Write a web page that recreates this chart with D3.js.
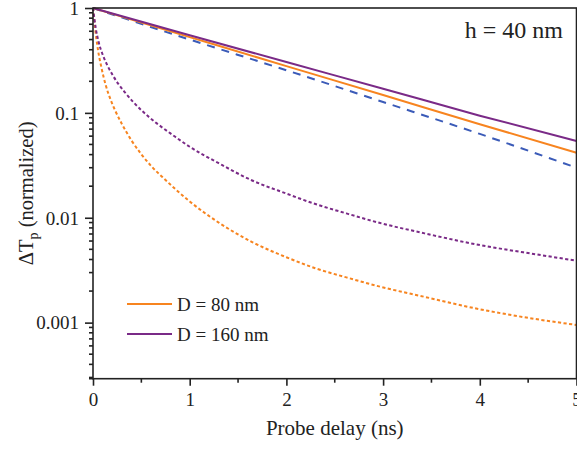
<!DOCTYPE html>
<html><head><meta charset="utf-8">
<script src="https://cdn.jsdelivr.net/npm/d3@7"></script>
<style>
html,body{margin:0;padding:0;background:#fff;}
svg{display:block;}
text{font-family:"Liberation Serif","Times New Roman",serif;fill:#222;}
</style></head>
<body><svg id="c" width="577" height="452"></svg>
<script>
// ---- data ----
const tSolid = [0, 1, 2, 3, 4, 5];
const solid80 = [1, 0.528, 0.279, 0.148, 0.078, 0.0416];
const solid160 = [1, 0.55, 0.305, 0.170, 0.094, 0.054];
const dashedRef = [1, 0.50, 0.255, 0.127, 0.063, 0.030];

const tDot80 = [0, 0.02, 0.05, 0.09, 0.13, 0.18, 0.23, 0.3, 0.4, 0.5, 0.6, 0.75, 1.0, 1.3, 1.64, 2.0, 2.3, 2.62, 2.97, 3.43, 3.95, 4.45, 5.0];
const dot80 = [1, 0.66, 0.407, 0.263, 0.186, 0.135, 0.105, 0.078, 0.0543, 0.0403, 0.0313, 0.0229, 0.0143, 0.0090, 0.0059, 0.0042, 0.0033, 0.0027, 0.0022, 0.00176, 0.00137, 0.00113, 0.00095];

const tDot160 = [0, 0.03, 0.06, 0.1, 0.15, 0.2, 0.26, 0.33, 0.42, 0.5, 0.66, 0.83, 1.0, 1.3, 1.64, 2.0, 2.28, 2.62, 2.97, 3.43, 3.95, 4.45, 5.0];
const dot160 = [1, 0.63, 0.468, 0.359, 0.282, 0.232, 0.19, 0.157, 0.126, 0.106, 0.0794, 0.061, 0.0475, 0.0331, 0.0228, 0.017, 0.0137, 0.011, 0.0089, 0.0071, 0.0056, 0.00468, 0.0039];

const xTicks = [0, 1, 2, 3, 4, 5];
const yTicks = [1, 0.1, 0.01, 0.001];
const yTickLabels = ["1", "0.1", "0.01", "0.001"];
const legendLabels = ["D = 80 nm", "D = 160 nm"];
const annotation = "h = 40 nm";

// ---- layout ----
const colOrange = "#f7841f", colPurple = "#7a2a87", colBlue = "#3b5bb8";
const L = 93, T = 8, W = 483.5, H = 370.7;
const svg = d3.select("#c");
const x = d3.scaleLinear().domain([0, 5]).range([L, L + W]);
const y = d3.scaleLog().domain([2.92e-4, 1]).range([T + H, T]);

// series
const line = d3.line().x(d => x(d[0])).y(d => y(d[1])).curve(d3.curveMonotoneX);
const zip = (a, b) => a.map((v, i) => [v, b[i]]);
const g = svg.append("g");
g.append("path").attr("d", line(zip(tDot80, dot80))).attr("fill", "none")
  .attr("stroke", colOrange).attr("stroke-width", 2).attr("stroke-dasharray", "3.2,2.4");
g.append("path").attr("d", line(zip(tDot160, dot160))).attr("fill", "none")
  .attr("stroke", colPurple).attr("stroke-width", 2).attr("stroke-dasharray", "3.2,2.4");
g.append("path").attr("d", line(zip(tSolid, dashedRef))).attr("fill", "none")
  .attr("stroke", colBlue).attr("stroke-width", 2).attr("stroke-dasharray", "8,7");
g.append("path").attr("d", line(zip(tSolid, solid80))).attr("fill", "none")
  .attr("stroke", colOrange).attr("stroke-width", 2);
g.append("path").attr("d", line(zip(tSolid, solid160))).attr("fill", "none")
  .attr("stroke", colPurple).attr("stroke-width", 2);

// frame
svg.append("rect").attr("x", L).attr("y", T).attr("width", W).attr("height", H)
  .attr("fill", "none").attr("stroke", "#222").attr("stroke-width", 1.6);

// x axis
const xAxis = d3.axisBottom(x).tickValues(xTicks).tickSize(7).tickFormat(d3.format("d"));
const gx = svg.append("g").attr("transform", `translate(0,${T + H})`).call(xAxis);
gx.select(".domain").remove();
gx.selectAll(".tick line").attr("stroke", "#222").attr("stroke-width", 1.6);
gx.selectAll(".tick text").attr("font-size", 19).attr("dy", "0").attr("y", 27)
  .style("font-family", "'Liberation Serif', serif").attr("fill", "#222");
const xMinor = d3.range(0.5, 5, 1);
svg.append("g").selectAll("line").data(xMinor).join("line")
  .attr("x1", d => x(d)).attr("x2", d => x(d)).attr("y1", T + H).attr("y2", T + H + 4)
  .attr("stroke", "#222").attr("stroke-width", 1.6);

// y axis
const yAxis = d3.axisLeft(y).tickValues(yTicks).tickSize(8).tickFormat((d, i) => yTickLabels[i]);
const gy = svg.append("g").attr("transform", `translate(${L},0)`).call(yAxis);
gy.select(".domain").remove();
gy.selectAll(".tick line").attr("stroke", "#222").attr("stroke-width", 1.6);
gy.selectAll(".tick text").attr("font-size", 19).attr("x", -14).attr("dy", "0.33em")
  .style("font-family", "'Liberation Serif', serif").attr("fill", "#222");
const yMinor = [];
[-4, -3, -2, -1].forEach(e => { for (let k = 2; k <= 9; k++) { const v = k * Math.pow(10, e); if (v >= 2.9e-4 && v < 1) yMinor.push(v); } });
yMinor.push(y.domain()[0]);
svg.append("g").selectAll("line").data(yMinor).join("line")
  .attr("x1", L - 4).attr("x2", L).attr("y1", d => y(d)).attr("y2", d => y(d))
  .attr("stroke", "#222").attr("stroke-width", 1.6);

// axis titles
svg.append("text").attr("x", x(2.5)).attr("y", 435).attr("text-anchor", "middle")
  .attr("font-size", 21).text("Probe delay (ns)");
const yl = svg.append("text").attr("transform", `translate(33,${T + H / 2}) rotate(-90)`)
  .attr("text-anchor", "middle").attr("font-size", 20.5);
yl.append("tspan").text("ΔT");
yl.append("tspan").attr("font-size", 14).attr("dy", 5).text("p");
yl.append("tspan").attr("dy", -5).text(" (normalized)");

// annotation
svg.append("text").attr("x", 563).attr("y", 38).attr("text-anchor", "end")
  .attr("font-size", 24).text(annotation);

// legend
const legCols = [colOrange, colPurple];
const lg = svg.append("g").selectAll("g").data(legendLabels).join("g")
  .attr("transform", (d, i) => `translate(127,${304 + i * 30})`);
lg.append("line").attr("x1", 0).attr("x2", 45).attr("y1", 0).attr("y2", 0)
  .attr("stroke", (d, i) => legCols[i]).attr("stroke-width", 2);
lg.append("text").attr("x", 50).attr("y", 6.5).attr("font-size", 19).text(d => d);
</script></body></html>
